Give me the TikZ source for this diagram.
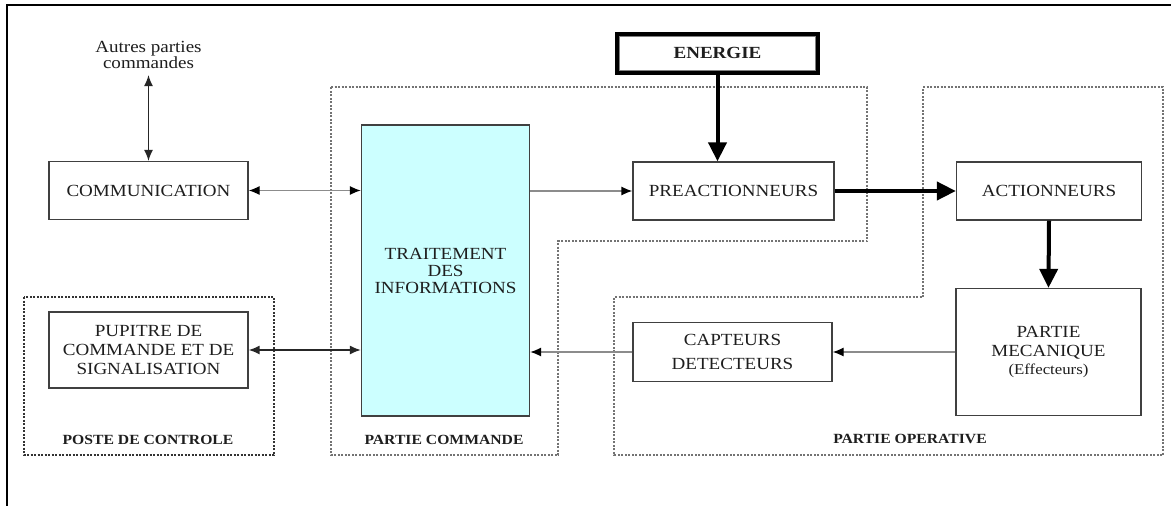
\documentclass[tikz,border=0pt]{standalone}
\usepackage{fontspec}
\setmainfont{Liberation Serif}[FakeStretch=1.12]
\usetikzlibrary{arrows.meta}
\definecolor{cyanfill}{RGB}{204,255,255}
\definecolor{txt}{RGB}{30,30,30}
\begin{document}
\begin{tikzpicture}[x=1pt,y=-1pt,
  box/.style={draw=black!75, line width=1.3pt, inner sep=0pt, align=center, text=txt,
    font=\fontsize{17}{19}\selectfont},
  region/.style={draw=black!55, line width=1.3pt, dash pattern=on 2pt off 1.5pt},
  darkregion/.style={draw=black!80, line width=1.2pt, dash pattern=on 2pt off 1.5pt},
  lbl/.style={font=\fontsize{14}{16}\selectfont\bfseries, text=txt},
  thinarrow/.style={draw=black!45, line width=1.3pt, -{Latex[length=11pt,width=9pt,color=black]}},
  thindbl/.style={draw=black!45, line width=1.3pt, {Latex[length=11pt,width=9pt,color=black]}-{Latex[length=11pt,width=9pt,color=black]}},
  blackdbl/.style={draw=black!85, line width=1.5pt, {Latex[length=11pt,width=9pt]}-{Latex[length=11pt,width=9pt]}},
  thickarrow/.style={draw=black, line width=4pt, -{Triangle[length=19pt,width=18pt]}}
]
\useasboundingbox (0,0) rectangle (1171,506);
\fill[white] (0,0) rectangle (1171,506);
% outer frame
\draw[line width=1.3pt] (7,506) -- (7,5) -- (1171,5);

% regions
\draw[region] (331,87) -- (867,87) -- (867,241) -- (558,241) -- (558,455) -- (331,455) -- cycle;
\draw[region] (923,87) -- (1163,87) -- (1163,455) -- (614,455) -- (614,297) -- (923,297) -- cycle;
\draw[darkregion] (24,297) rectangle (274,455);

% labels
\node[lbl] (lposte) at (148,440) {POSTE DE CONTROLE};
\node[lbl] (lcmd) at (444,440) {PARTIE COMMANDE};
\node[lbl] (lop) at (910,439) {PARTIE OPERATIVE};

% nodes
\node[align=center, text=txt, font=\fontsize{17}{15}\selectfont, inner sep=2pt] (autres) at (148.5,55) {Autres parties\\commandes};
\node[box, minimum width=199pt, minimum height=58pt] (comm) at (148.5,190.5) {COMMUNICATION};
\node[box, minimum width=199pt, minimum height=76pt] (pup) at (148.5,350) {PUPITRE DE\\COMMANDE ET DE\\SIGNALISATION};
\node[box, fill=cyanfill, minimum width=168pt, minimum height=291pt, font=\fontsize{17}{17}\selectfont] (trait) at (445.5,270.5) {TRAITEMENT\\DES\\INFORMATIONS};
\node[box, minimum width=201pt, minimum height=58pt] (pre) at (733.5,191) {PREACTIONNEURS};
\node[draw=black, line width=5pt, inner sep=0pt, minimum width=200pt, minimum height=38pt, text=txt,
  font=\fontsize{17}{19}\selectfont\bfseries] (en) at (717.5,53) {ENERGIE};
\draw[black!50, line width=0.8pt] ([shift={(4.5,4.5)}]en.north west) rectangle ([shift={(-4.5,-4.5)}]en.south east);
\node[box, minimum width=185pt, minimum height=58pt] (act) at (1049,191) {ACTIONNEURS};
\node[box, minimum width=185pt, minimum height=127pt, font=\fontsize{17}{18.5}\selectfont] (meca) at (1048.5,352) {PARTIE\\MECANIQUE\\{\fontsize{15}{18.5}\selectfont(Effecteurs)}};
\node[box, minimum width=199pt, minimum height=59pt, font=\fontsize{17}{24}\selectfont] (capt) at (732.5,352) {CAPTEURS\\DETECTEURS};

% connectors
\draw[blackdbl, line width=1.2pt, shorten <=4pt] (autres.south) -- (comm.north);
\draw[thindbl] (comm.east) -- (comm.east -| trait.west);
\draw[blackdbl] (pup.east) -- (pup.east -| trait.west);
\draw[thinarrow] (pre.west -| trait.east) -- (pre.west);
\draw[thickarrow] (en.south) -- (en.south |- pre.north);
\draw[thickarrow] (pre.east) -- (act.west);
\draw[thickarrow] (act.south) -- (meca.north);
\draw[thinarrow] (meca.west) -- (capt.east);
\draw[thinarrow] (capt.west) -- (capt.west -| trait.east);
\end{tikzpicture}
\end{document}
